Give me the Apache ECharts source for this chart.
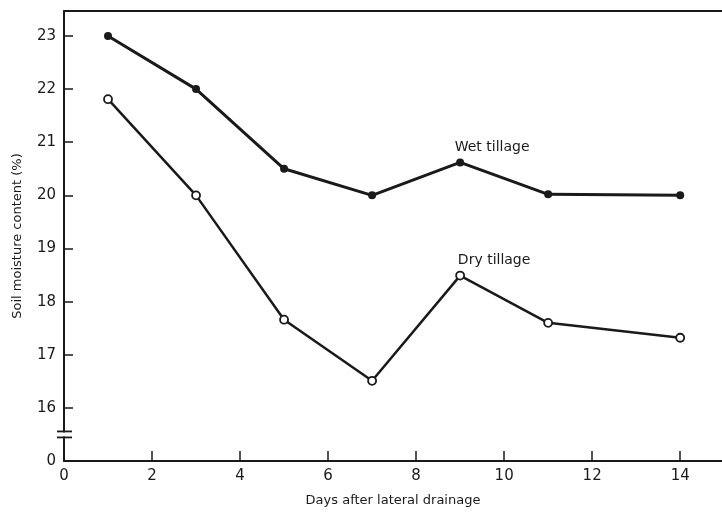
<!DOCTYPE html>
<html><head><meta charset="utf-8">
<script src="https://cdn.jsdelivr.net/npm/echarts@6/dist/echarts.min.js"></script>
<style>html,body{margin:0;padding:0;background:#fff}#c{width:722px;height:515px}</style>
</head><body><div id="c"></div>
<script>
const days = [1, 3, 5, 7, 9, 11, 14];
const wetTillage = [23.0, 22.0, 20.5, 20.0, 20.62, 20.02, 20.0];
const dryTillage = [21.81, 20.0, 17.66, 16.51, 18.49, 17.6, 17.32];
const seriesNames = ['Wet tillage', 'Dry tillage'];
const xTicks = [0, 2, 4, 6, 8, 10, 12, 14];
const yTicks = [16, 17, 18, 19, 20, 21, 22, 23];
const yBreakValue = 15; // shown as "0" below the axis break
const labelIndex = 4;

const chart = echarts.init(document.getElementById('c'));
const font = 'DejaVu Sans';
const ink = '#1a1a1a';

function mk(vals, name, offset) {
  return vals.map((v, i) => {
    const d = { value: [days[i], v] };
    if (i === labelIndex) {
      d.label = { show: true, formatter: name, position: 'top', offset: offset,
        color: ink, fontFamily: font, fontSize: 14 };
    }
    return d;
  });
}

chart.setOption({
  animation: false,
  backgroundColor: '#fff',
  grid: { left: 64, right: 0, top: 11, bottom: 54 },
  xAxis: [{
    type: 'value', min: 0, max: 14.95, interval: 2,
    axisLine: { show: true, lineStyle: { color: ink, width: 2 } },
    axisTick: { show: true, inside: true, length: 10, lineStyle: { color: ink, width: 1.5 },
      customValues: xTicks },
    axisLabel: { color: ink, fontFamily: font, fontSize: 15, margin: 8,
      customValues: xTicks, formatter: v => String(v) },
    splitLine: { show: false },
    name: 'Days after lateral drainage', nameLocation: 'middle', nameGap: 33,
    nameTextStyle: { color: ink, fontFamily: font, fontSize: 13 }
  }, {
    type: 'value', position: 'top', min: 0, max: 14.95,
    axisLine: { show: true, lineStyle: { color: ink, width: 2 } },
    axisTick: { show: false }, axisLabel: { show: false }, splitLine: { show: false }
  }],
  yAxis: {
    type: 'value', min: yBreakValue, max: 23.47, interval: 1,
    axisLine: { show: true, lineStyle: { color: ink, width: 2 } },
    axisTick: { show: true, inside: true, length: 9, lineStyle: { color: ink, width: 1.5 },
      customValues: yTicks },
    axisLabel: { color: ink, fontFamily: font, fontSize: 15, margin: 8,
      customValues: [yBreakValue].concat(yTicks),
      formatter: v => (v === yBreakValue ? '0' : String(v)) },
    splitLine: { show: false },
    name: 'Soil moisture content (%)', nameLocation: 'middle', nameGap: 40,
    nameTextStyle: { color: ink, fontFamily: font, fontSize: 13 }
  },
  series: [{
    name: seriesNames[0], type: 'line', data: mk(wetTillage, seriesNames[0], [32, 1]),
    symbol: 'circle', symbolSize: 8,
    itemStyle: { color: ink },
    lineStyle: { color: ink, width: 3 }
  }, {
    name: seriesNames[1], type: 'line', data: mk(dryTillage, seriesNames[1], [34, 2]),
    symbol: 'circle', symbolSize: 8,
    itemStyle: { color: '#fff', borderColor: ink, borderWidth: 1.8 },
    lineStyle: { color: ink, width: 2.5 }
  }]
});

// axis break marks
const p1 = chart.convertToPixel({ xAxisIndex: 0, yAxisIndex: 0 }, [0, 15.5]);
const bx = p1[0], by = p1[1];
chart.setOption({
  graphic: [
    { type: 'rect', shape: { x: bx - 3, y: by - 2, width: 6, height: 4 }, style: { fill: '#fff' }, z: 100 },
    { type: 'line', shape: { x1: bx - 7, y1: by - 3, x2: bx + 8, y2: by - 3 }, style: { stroke: ink, lineWidth: 1.8 }, z: 101 },
    { type: 'line', shape: { x1: bx - 7, y1: by + 3, x2: bx + 8, y2: by + 3 }, style: { stroke: ink, lineWidth: 1.8 }, z: 101 }
  ]
});
</script></body></html>
